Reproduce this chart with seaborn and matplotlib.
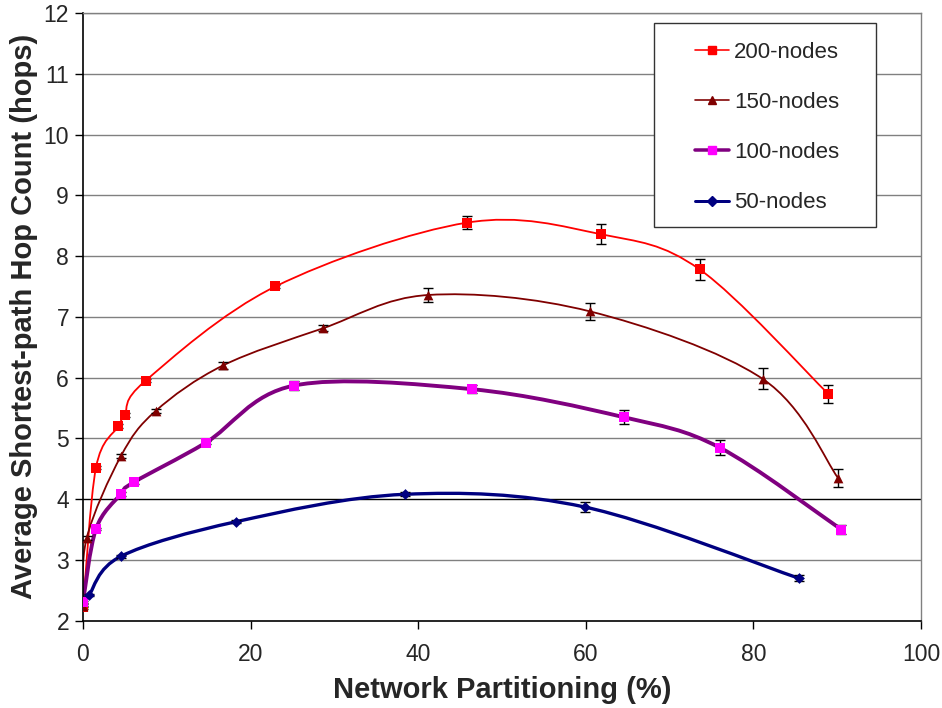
import numpy as np
import pandas as pd
import matplotlib
matplotlib.use("Agg")
import matplotlib.pyplot as plt
from matplotlib.path import Path
from matplotlib.patches import PathPatch, Rectangle
from matplotlib.lines import Line2D
import seaborn as sns

sns.set_theme(style="white")
plt.rcParams['font.family'] = ['Liberation Sans', 'DejaVu Sans']

# 数据
x200 = [0.0, 1.55, 4.2, 4.97, 7.47, 22.96, 45.8, 61.8, 73.6, 88.95]
y200 = [2.22, 4.52, 5.20, 5.39, 5.95, 7.50, 8.55, 8.36, 7.78, 5.73]
e200 = [0.02, 0.02, 0.03, 0.03, 0.03, 0.03, 0.11, 0.16, 0.18, 0.15]

x150 = [0.0, 0.44, 4.53, 8.66, 16.7, 28.6, 41.2, 60.5, 81.1, 90.1]
y150 = [2.25, 3.36, 4.71, 5.45, 6.20, 6.81, 7.36, 7.09, 5.98, 4.35]
e150 = [0.02, 0.03, 0.03, 0.03, 0.05, 0.05, 0.11, 0.145, 0.175, 0.15]

x100 = [0.0, 1.55, 4.49, 6.08, 14.66, 25.2, 46.4, 64.5, 75.96, 90.5]
y100 = [2.31, 3.51, 4.08, 4.28, 4.93, 5.87, 5.81, 5.35, 4.85, 3.50]
e100 = [0.02, 0.02, 0.03, 0.03, 0.03, 0.07, 0.07, 0.12, 0.13, 0.08]

x50 = [0.72, 4.53, 18.3, 38.4, 59.9, 85.4]
y50 = [2.42, 3.06, 3.63, 4.08, 3.87, 2.70]
e50 = [0.02, 0.02, 0.03, 0.03, 0.08, 0.05]

labels = ['200-nodes', '150-nodes', '100-nodes', '50-nodes']


def smooth_path(x, y):
    # Excel 风格平滑线（Catmull-Rom 转 Bezier）
    pts = np.column_stack([x, y]).astype(float)
    n = len(pts)
    verts = [pts[0]]
    codes = [Path.MOVETO]
    for i in range(n - 1):
        p0 = pts[i - 1] if i > 0 else pts[i]
        p1 = pts[i]
        p2 = pts[i + 1]
        p3 = pts[i + 2] if i + 2 < n else pts[i + 1]
        verts += [p1 + (p2 - p0) / 6, p2 - (p3 - p1) / 6, p2]
        codes += [Path.CURVE4] * 3
    return Path(verts, codes)


series = [
    (x200, y200, e200, '#FF0000', '#FF0000', 's', 7, 1.3),
    (x150, y150, e150, '#800000', '#800000', '^', 7, 1.3),
    (x100, y100, e100, '#800080', '#FF00FF', 's', 6.5, 2.8),
    (x50, y50, e50, '#000080', '#000080', 'D', 5.5, 2.4),
]

fig, ax = plt.subplots(figsize=(9.42, 7.08), dpi=100)
fig.subplots_adjust(left=0.0881, right=0.9777, bottom=0.1233, top=0.9816)

ax.set_xlim(0, 100)
ax.set_ylim(2, 12)
for yv in range(3, 13):
    ax.axhline(yv, color='black' if yv == 4 else '#808080', lw=1.0, zorder=0)

# 平滑线
for x, y, e, lc, mc, mk, ms, lw in series:
    ax.add_patch(PathPatch(smooth_path(x, y), facecolor='none', edgecolor=lc, lw=lw, zorder=2))

# 误差线和标记
handles = []
for (x, y, e, lc, mc, mk, ms, lw), lab in zip(series, labels):
    ax.errorbar(x, y, yerr=e, fmt='none', ecolor='black', elinewidth=1, capsize=3.5, capthick=1, zorder=3)
    df = pd.DataFrame({'x': x, 'y': y})
    sns.scatterplot(data=df, x='x', y='y', ax=ax, marker=mk, s=ms ** 2, color=mc,
                    edgecolor=mc, linewidth=0, zorder=4, legend=False)
    handles.append(Line2D([], [], color=lc, lw=lw * 0.9, marker=mk, markersize=ms * 0.85,
                          markerfacecolor=mc, markeredgecolor=mc))

ax.set_xticks(range(0, 101, 20))
ax.set_yticks(range(2, 13))
ax.tick_params(axis='both', labelsize=16.5, direction='out', length=6, width=1, color='black',
               bottom=True, left=True, pad=4)
ax.tick_params(axis='x', pad=10)

for s in ['left', 'bottom']:
    ax.spines[s].set_color('black')
    ax.spines[s].set_linewidth(1.2)
for s in ['top', 'right']:
    ax.spines[s].set_color('#808080')
    ax.spines[s].set_linewidth(1.0)

ax.set_xlabel('Network Partitioning (%)', fontsize=21, fontweight='bold', labelpad=7)
ax.set_ylabel('Average Shortest-path Hop Count (hops)', fontsize=21, fontweight='bold', labelpad=4)

# 图例框
ax.add_patch(Rectangle((0.6814, 0.6479), 0.2649, 0.3356, transform=ax.transAxes,
                       facecolor='white', edgecolor='#333333', lw=1.0, zorder=5))
leg = ax.legend(handles, labels, loc='upper left', bbox_to_anchor=(0.7303, 0.9523), fontsize=16,
                frameon=False, handlelength=1.55, labelspacing=1.31, borderpad=0,
                handletextpad=0.2, borderaxespad=0)
leg.set_zorder(6)

fig.savefig('out.png', dpi=100)
